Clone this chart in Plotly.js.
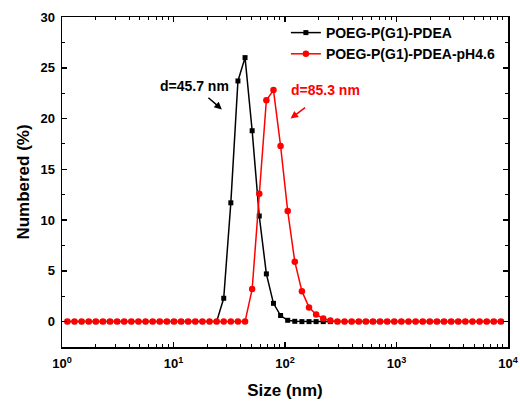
<!DOCTYPE html>
<html><head><meta charset="utf-8">
<script src="https://cdn.plot.ly/plotly-3.0.1.min.js"></script>
<style>html,body{margin:0;padding:0;background:#fff}</style>
</head><body><div id="chart" style="width:520px;height:405px"></div>
<script>
// Size bins (nm)
const sizeNm = [1.117, 1.294, 1.499, 1.736, 2.01, 2.328, 2.696, 3.122, 3.615, 4.187,
  4.849, 5.615, 6.503, 7.531, 8.721, 10.1, 11.7, 13.54, 15.69, 18.17,
  21.04, 24.36, 28.21, 32.67, 37.84, 43.82, 50.75, 58.77, 68.06, 78.82,
  91.28, 105.7, 122.4, 141.8, 164.2, 190.1, 220.2, 255.0, 295.3, 342.0,
  396.1, 458.7, 531.2, 615.1, 712.4, 825.0, 955.4, 1106, 1281, 1484,
  1718, 1990, 2305, 2669, 3091, 3580, 4145, 4801, 5560, 6439,
  7456, 8635];
// Numbered (%) - POEG-P(G1)-PDEA
const numberedPDEA = [0, 0, 0, 0, 0, 0, 0, 0, 0, 0,
  0, 0, 0, 0, 0, 0, 0, 0, 0, 0,
  0, 0, 2.3, 11.7, 23.7, 26.0, 18.8, 10.4, 4.7, 1.8,
  0.6, 0.13, 0.03, 0, 0, 0, 0, 0, 0, 0,
  0, 0, 0, 0, 0, 0, 0, 0, 0, 0,
  0, 0, 0, 0, 0, 0, 0, 0, 0, 0,
  0, 0];
// Numbered (%) - POEG-P(G1)-PDEA-pH4.6
const numberedPH46 = [0, 0, 0, 0, 0, 0, 0, 0, 0, 0,
  0, 0, 0, 0, 0, 0, 0, 0, 0, 0,
  0, 0, 0, 0, 0, 0, 3.2, 12.6, 21.8, 22.8,
  17.3, 10.9, 5.9, 3.0, 1.4, 0.7, 0.3, 0.1, 0, 0,
  0, 0, 0, 0, 0, 0, 0, 0, 0, 0,
  0, 0, 0, 0, 0, 0, 0, 0, 0, 0,
  0, 0];
const seriesNames = ['POEG-P(G1)-PDEA', 'POEG-P(G1)-PDEA-pH4.6'];
const xTickVals = [1, 10, 100, 1000, 10000];
const xTickText = ['10<sup>0</sup>', '10<sup>1</sup>', '10<sup>2</sup>', '10<sup>3</sup>', '10<sup>4</sup>'];
const yTickVals = [0, 5, 10, 15, 20, 25, 30];
const yTickText = ['0', '5', '10', '15', '20', '25', '30'];
const peakLabels = ['d=45.7 nm', 'd=85.3 nm'];

const FONT = '"Liberation Sans", Arial, sans-serif';
const minorX = [];
for (let d = 1; d < 10000; d *= 10) for (let k = 2; k <= 9; k++) minorX.push(d * k);

const traces = [
  {x: sizeNm, y: numberedPDEA, name: seriesNames[0], type: 'scatter', mode: 'lines+markers',
   line: {color: '#000000', width: 1.5}, marker: {symbol: 'square', size: 5, color: '#000000'}},
  {x: sizeNm, y: numberedPH46, name: seriesNames[1], type: 'scatter', mode: 'lines+markers',
   line: {color: '#ff0000', width: 1.5}, marker: {symbol: 'circle', size: 6.5, color: '#ff0000'}}
];

const axisCommon = {showline: true, linecolor: '#000', linewidth: 1.5, mirror: 'ticks',
  ticks: 'inside', ticklen: 5, tickwidth: 1.5, tickcolor: '#000', showgrid: false, zeroline: false,
  tickfont: {family: FONT, size: 13, color: '#000', weight: 'bold'}};

const layout = {
  width: 520, height: 405,
  margin: {l: 62, r: 12, t: 17, b: 58},
  paper_bgcolor: '#fff', plot_bgcolor: '#fff',
  font: {family: FONT, color: '#000'},
  showlegend: true,
  legend: {x: 0.502, y: 1.0, xanchor: 'left', yanchor: 'top', bgcolor: 'rgba(0,0,0,0)',
    font: {family: FONT, size: 14, color: '#000', weight: 'bold'}},
  xaxis: Object.assign({}, axisCommon, {
    type: 'log', range: [0, 4], tickmode: 'array', tickvals: xTickVals, ticktext: xTickText,
    ticklabelstandoff: 4,
    minor: {tickmode: 'array', tickvals: minorX, ticks: 'inside', ticklen: 3, tickwidth: 1, tickcolor: '#000'},
    title: {text: 'Size (nm)', font: {family: FONT, size: 17, weight: 'bold'}, standoff: 14}
  }),
  yaxis: Object.assign({}, axisCommon, {
    range: [-2.5, 30], tickmode: 'array', tickvals: yTickVals, ticktext: yTickText,
    ticklabelstandoff: 3,
    minor: {dtick: 2.5, tick0: 0, ticks: 'inside', ticklen: 3, tickwidth: 1, tickcolor: '#000'},
    title: {text: 'Numbered (%)', font: {family: FONT, size: 17, weight: 'bold'}, standoff: 6}
  }),
  annotations: [
    {xref: 'x', yref: 'y', x: 1.191, y: 23.2, text: peakLabels[0], showarrow: false,
     font: {family: FONT, size: 14, color: '#000', weight: 'bold'}},
    {xref: 'x', yref: 'y', x: 2.366, y: 22.8, text: peakLabels[1], showarrow: false,
     font: {family: FONT, size: 14, color: '#ff0000', weight: 'bold'}},
    {xref: 'x', yref: 'y', x: 1.434, y: 20.9, text: '', showarrow: true, ax: -15, ay: -13,
     arrowhead: 2, arrowsize: 1, arrowwidth: 1.5, arrowcolor: '#000'},
    {xref: 'x', yref: 'y', x: 2.050, y: 20.0, text: '', showarrow: true, ax: 16, ay: -12,
     arrowhead: 2, arrowsize: 1, arrowwidth: 1.5, arrowcolor: '#ff0000'}
  ]
};

Plotly.newPlot('chart', traces, layout, {displayModeBar: false, staticPlot: true});
</script>
</body></html>
